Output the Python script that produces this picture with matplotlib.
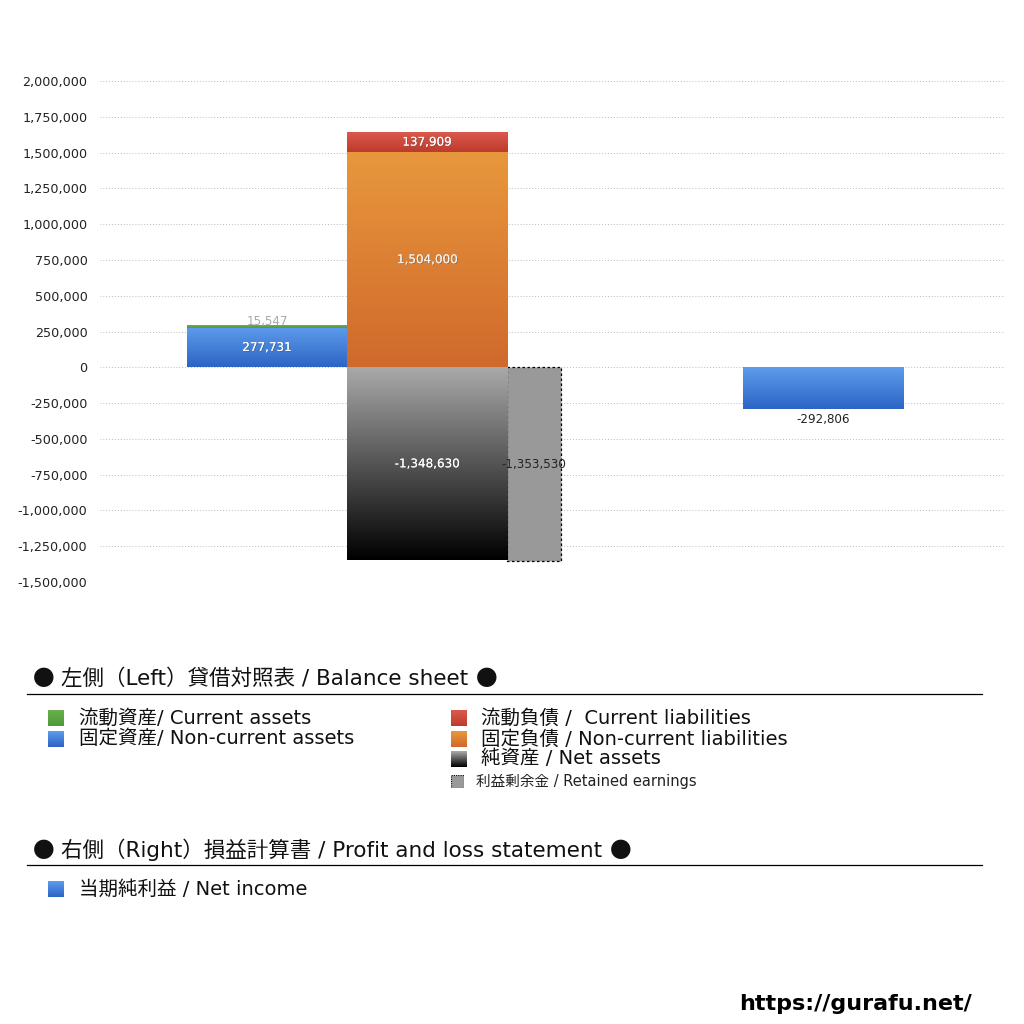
import numpy as np
import matplotlib
matplotlib.use("Agg")
import matplotlib.pyplot as plt
import matplotlib.patheffects as pe
from matplotlib.colors import LinearSegmentedColormap
from matplotlib.patches import Rectangle
from matplotlib.offsetbox import TextArea, HPacker, AnchoredOffsetbox

plt.rcParams['font.family'] = ['DejaVu Sans', 'Noto Sans CJK JP']

# data
current_assets = 15547
noncurrent_assets = 277731
current_liabilities = 137909
noncurrent_liabilities = 1504000
net_assets = -1348630
retained_earnings = -1353530
net_income = -292806

yticks = [2000000, 1750000, 1500000, 1250000, 1000000, 750000, 500000,
          250000, 0, -250000, -500000, -750000, -1000000, -1250000, -1500000]

# colours (top, bottom) for gradients
c_green = ('#6ab04c', '#4e9a3a')
c_blue = ('#5d9cec', '#2c64c4')
c_red = ('#d95a4c', '#bf3a2c')
c_orange = ('#e8983c', '#d0692c')
c_black = ('#aaaaaa', '#000000')
c_grey = '#999999'


def grad_fill(ax, bar, cols):
    x0, y0 = bar.get_x(), bar.get_y()
    w, h = bar.get_width(), bar.get_height()
    cmap = LinearSegmentedColormap.from_list('g', [cols[1], cols[0]])
    ylo, yhi = min(y0, y0 + h), max(y0, y0 + h)
    img = ax.imshow(np.linspace(0, 1, 256).reshape(-1, 1), cmap=cmap,
                    extent=(x0, x0 + w, ylo, yhi), origin='lower',
                    aspect='auto', zorder=bar.get_zorder(), interpolation='bilinear')
    img.set_clip_path(bar)
    bar.set_facecolor('none')


fig = plt.figure(figsize=(10.24, 10.24), dpi=100)
ax = fig.add_axes([100 / 1024, 1 - 582 / 1024, 905 / 1024, 501 / 1024])

bw = 1.0
x_bs = 1.044
x_liab = 2.044
x_ret = 2.544 + 0.169
x_pl = 4.519

b_nca = ax.bar(x_bs, noncurrent_assets, bw, color=c_blue[0], zorder=2)[0]
b_ca = ax.bar(x_bs, current_assets, bw, bottom=noncurrent_assets, color=c_green[0], zorder=2)[0]
b_ncl = ax.bar(x_liab, noncurrent_liabilities, bw, color=c_orange[0], zorder=2)[0]
b_cl = ax.bar(x_liab, current_liabilities, bw, bottom=noncurrent_liabilities, color=c_red[0], zorder=2)[0]
b_na = ax.bar(x_liab, net_assets, bw, color=c_black[0], zorder=2)[0]
b_re = ax.bar(x_ret, retained_earnings, 0.3375, color=c_grey, edgecolor='black',
              linestyle=(0, (2, 2)), linewidth=0.9, zorder=2)[0]
b_ni = ax.bar(x_pl, net_income, bw, color=c_blue[0], zorder=2)[0]

for b, c in [(b_nca, c_blue), (b_ca, c_green), (b_ncl, c_orange), (b_cl, c_red),
             (b_na, c_black), (b_ni, c_blue)]:
    grad_fill(ax, b, c)

ax.set_xlim(0, 5.656)
ax.set_ylim(-1500000, 2000000)
ax.set_yticks(yticks)
ax.set_yticklabels([f'{v:,}' for v in yticks])
ax.tick_params(axis='y', length=0, labelsize=9.2, pad=9, labelcolor='#222222')
ax.set_xticks([])
for s in ax.spines.values():
    s.set_visible(False)
ax.yaxis.grid(True, linestyle=(0, (1, 2)), color='#bbbbbb', linewidth=0.7)
ax.set_axisbelow(True)

fx = [pe.withSimplePatchShadow(offset=(0.6, -0.6), shadow_rgbFace='#555555', alpha=0.5), pe.Normal()]
lab = dict(ha='center', va='center', fontsize=8.6, zorder=5)
ax.text(x_bs, noncurrent_assets / 2, f'{noncurrent_assets:,}', color='white', path_effects=fx, **lab)
ax.text(x_bs, noncurrent_assets + current_assets + 28000, f'{current_assets:,}', color='#aaaaaa', **lab)
ax.text(x_liab, noncurrent_liabilities / 2, f'{noncurrent_liabilities:,}', color='#f2f2f2', path_effects=fx, **lab)
ax.text(x_liab, noncurrent_liabilities + current_liabilities / 2, f'{current_liabilities:,}', color='white', path_effects=fx, **lab)
ax.text(x_liab, net_assets / 2, f'{net_assets:,}', color='white', path_effects=fx, **lab)
ax.text(x_ret, retained_earnings / 2, f'{retained_earnings:,}', color='#222222', **lab)
ax.text(x_pl, net_income - 70000, f'{net_income:,}', color='#222222', **lab)

# legend area
def fy(py):
    return 1 - py / 1024


def sq(px, py, cols, size=16, dashed=False):
    a = fig.add_axes([px / 1024, fy(py + size / 2), size / 1024, size / 1024])
    if dashed:
        a.add_patch(Rectangle((0, 0), 1, 1, facecolor=cols, edgecolor='black',
                              linestyle=(0, (1, 1)), linewidth=0.8, transform=a.transAxes))
    else:
        cmap = LinearSegmentedColormap.from_list('s', [cols[1], cols[0]])
        a.imshow(np.linspace(0, 1, 32).reshape(-1, 1), cmap=cmap, origin='lower',
                 aspect='auto', extent=(0, 1, 0, 1))
    a.set_xlim(0, 1)
    a.set_ylim(0, 1)
    a.axis('off')


def header(px, py, text):
    cjk = dict(fontsize=15.5, family='Noto Sans CJK JP', color='#111111')
    lat = dict(fontsize=15.5, color='#111111')
    box = HPacker(children=[TextArea('●', textprops=cjk),
                            TextArea(text, textprops=lat),
                            TextArea('●', textprops=cjk)],
                  align='baseline', pad=0, sep=5)
    ab = AnchoredOffsetbox(loc='center left', child=box, pad=0, borderpad=0, frameon=False,
                           bbox_to_anchor=(px / 1024, fy(py)), bbox_transform=fig.transFigure)
    fig.add_artist(ab)


header(33, 679, '左側（Left）貸借対照表 / Balance sheet')
fig.add_artist(plt.Line2D([27 / 1024, 982 / 1024], [fy(694), fy(694)], color='black', linewidth=0.9))

items_l = [('流動資産/ Current assets', c_green, 718), ('固定資産/ Non-current assets', c_blue, 739)]
items_r = [('流動負債 /  Current liabilities', c_red, 718), ('固定負債 / Non-current liabilities', c_orange, 739),
           ('純資産 / Net assets', c_black, 759)]
for t, c, y in items_l:
    sq(48, y, c)
    fig.text(79 / 1024, fy(y), t, fontsize=14, va='center', color='#111111')
for t, c, y in items_r:
    sq(451, y, c)
    fig.text(481 / 1024, fy(y), t, fontsize=14, va='center', color='#111111')
sq(451, 781, c_grey, size=13, dashed=True)
fig.text(476 / 1024, fy(781), '利益剰余金 / Retained earnings', fontsize=10.5, va='center', color='#222222')

header(33, 850, '右側（Right）損益計算書 / Profit and loss statement')
fig.add_artist(plt.Line2D([27 / 1024, 982 / 1024], [fy(865), fy(865)], color='black', linewidth=0.9))
sq(48, 889, c_blue)
fig.text(79 / 1024, fy(889), '当期純利益 / Net income', fontsize=14, va='center', color='#111111')

fig.text(972 / 1024, fy(1004), 'https://gurafu.net/', fontsize=16, fontweight='bold',
         ha='right', va='center', color='black')

fig.savefig('out.png', dpi=100, facecolor='white')
